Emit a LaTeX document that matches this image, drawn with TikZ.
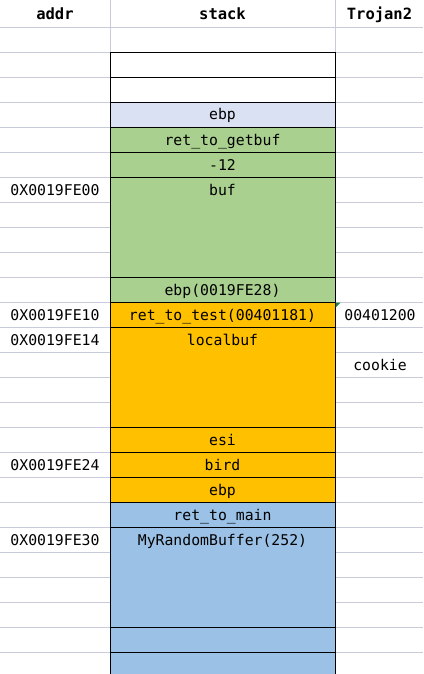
\documentclass[tikz,border=0pt]{standalone}
\usepackage{fontspec}
\setmonofont{DejaVu Sans Mono}
\definecolor{gridc}{HTML}{C8CCDA}
\definecolor{lav}{HTML}{D9E1F2}
\definecolor{grn}{HTML}{A9D08E}
\definecolor{org}{HTML}{FFC000}
\definecolor{blu}{HTML}{9BC2E6}
\definecolor{xlg}{HTML}{1E7B45}
\begin{document}
\begin{tikzpicture}[x=1pt,y=-1pt,
  txt/.style={font=\ttfamily\fontsize{14.8}{17}\selectfont, inner sep=0pt, anchor=base},
  hdr/.style={font=\ttfamily\bfseries\fontsize{15.5}{17}\selectfont, inner sep=0pt, anchor=base},
  cell/.style={draw=black, line width=0.9pt, minimum width=225pt, inner sep=0pt, anchor=north west},
  gl/.style={draw=gridc, line width=0.9pt}]
\useasboundingbox (0,0) rectangle (423,674);
\fill[white] (0,0) rectangle (423,674);
% gridlines
\foreach \y in {27,52,...,652} {
  \draw[gl] (0,\y) -- (110,\y);
  \draw[gl] (335,\y) -- (423,\y);
}
\draw[gl] (110,27) -- (335,27);
\draw[gl] (110,0) -- (110,674);
\draw[gl] (335,0) -- (335,674);
% headers
\node[hdr] (haddr) at (55,20) {addr};
\node[hdr] (hstack) at (222.5,20) {stack};
\node[hdr] (htroj) at (379.5,20) {Trojan2};
% stack cells
\node[cell, fill=white, minimum height=25pt] (s1) at (110,52) {};
\node[cell, fill=white, minimum height=25pt] (s2) at (110,77) {};
\node[cell, fill=lav, minimum height=25pt] (s3) at (110,102) {};
\node[cell, fill=grn, minimum height=25pt] (s4) at (110,127) {};
\node[cell, fill=grn, minimum height=25pt] (s5) at (110,152) {};
\node[cell, fill=grn, minimum height=100pt] (s6) at (110,177) {};
\node[cell, fill=grn, minimum height=25pt] (s7) at (110,277) {};
\node[cell, fill=org, minimum height=25pt] (s8) at (110,302) {};
\node[cell, fill=org, minimum height=100pt] (s9) at (110,327) {};
\node[cell, fill=org, minimum height=25pt] (s10) at (110,427) {};
\node[cell, fill=org, minimum height=25pt] (s11) at (110,452) {};
\node[cell, fill=org, minimum height=25pt] (s12) at (110,477) {};
\node[cell, fill=blu, minimum height=25pt] (s13) at (110,502) {};
\node[cell, fill=blu, minimum height=100pt] (s14) at (110,527) {};
\node[cell, fill=blu, minimum height=25pt] (s15) at (110,627) {};
\node[cell, fill=blu, minimum height=25pt] (s16) at (110,652) {};
% stack texts
\node[txt] (t3) at (222.5,120) {ebp};
\node[txt] (t4) at (222.5,145) {ret\_to\_getbuf};
\node[txt] (t5) at (222.5,170) {-12};
\node[txt] (t6) at (222.5,195) {buf};
\node[txt] (t7) at (222.5,295) {ebp(0019FE28)};
\node[txt] (t8) at (222.5,320) {ret\_to\_test(00401181)};
\node[txt] (t9) at (222.5,345) {localbuf};
\node[txt] (t10) at (222.5,445) {esi};
\node[txt] (t11) at (222.5,470) {bird};
\node[txt] (t12) at (222.5,495) {ebp};
\node[txt] (t13) at (222.5,520) {ret\_to\_main};
\node[txt] (t14) at (222.5,545) {MyRandomBuffer(252)};
% addresses
\node[txt] (a1) at (55,195) {0X0019FE00};
\node[txt] (a2) at (55,320) {0X0019FE10};
\node[txt] (a3) at (55,345) {0X0019FE14};
\node[txt] (a4) at (55,470) {0X0019FE24};
\node[txt] (a5) at (55,545) {0X0019FE30};
% Trojan2
\node[txt] (r1) at (380,320) {00401200};
\node[txt] (r2) at (380,370) {cookie};
\fill[xlg] (335.5,302.5) -- (340.5,302.5) -- (335.5,307.5) -- cycle;
\end{tikzpicture}
\end{document}
